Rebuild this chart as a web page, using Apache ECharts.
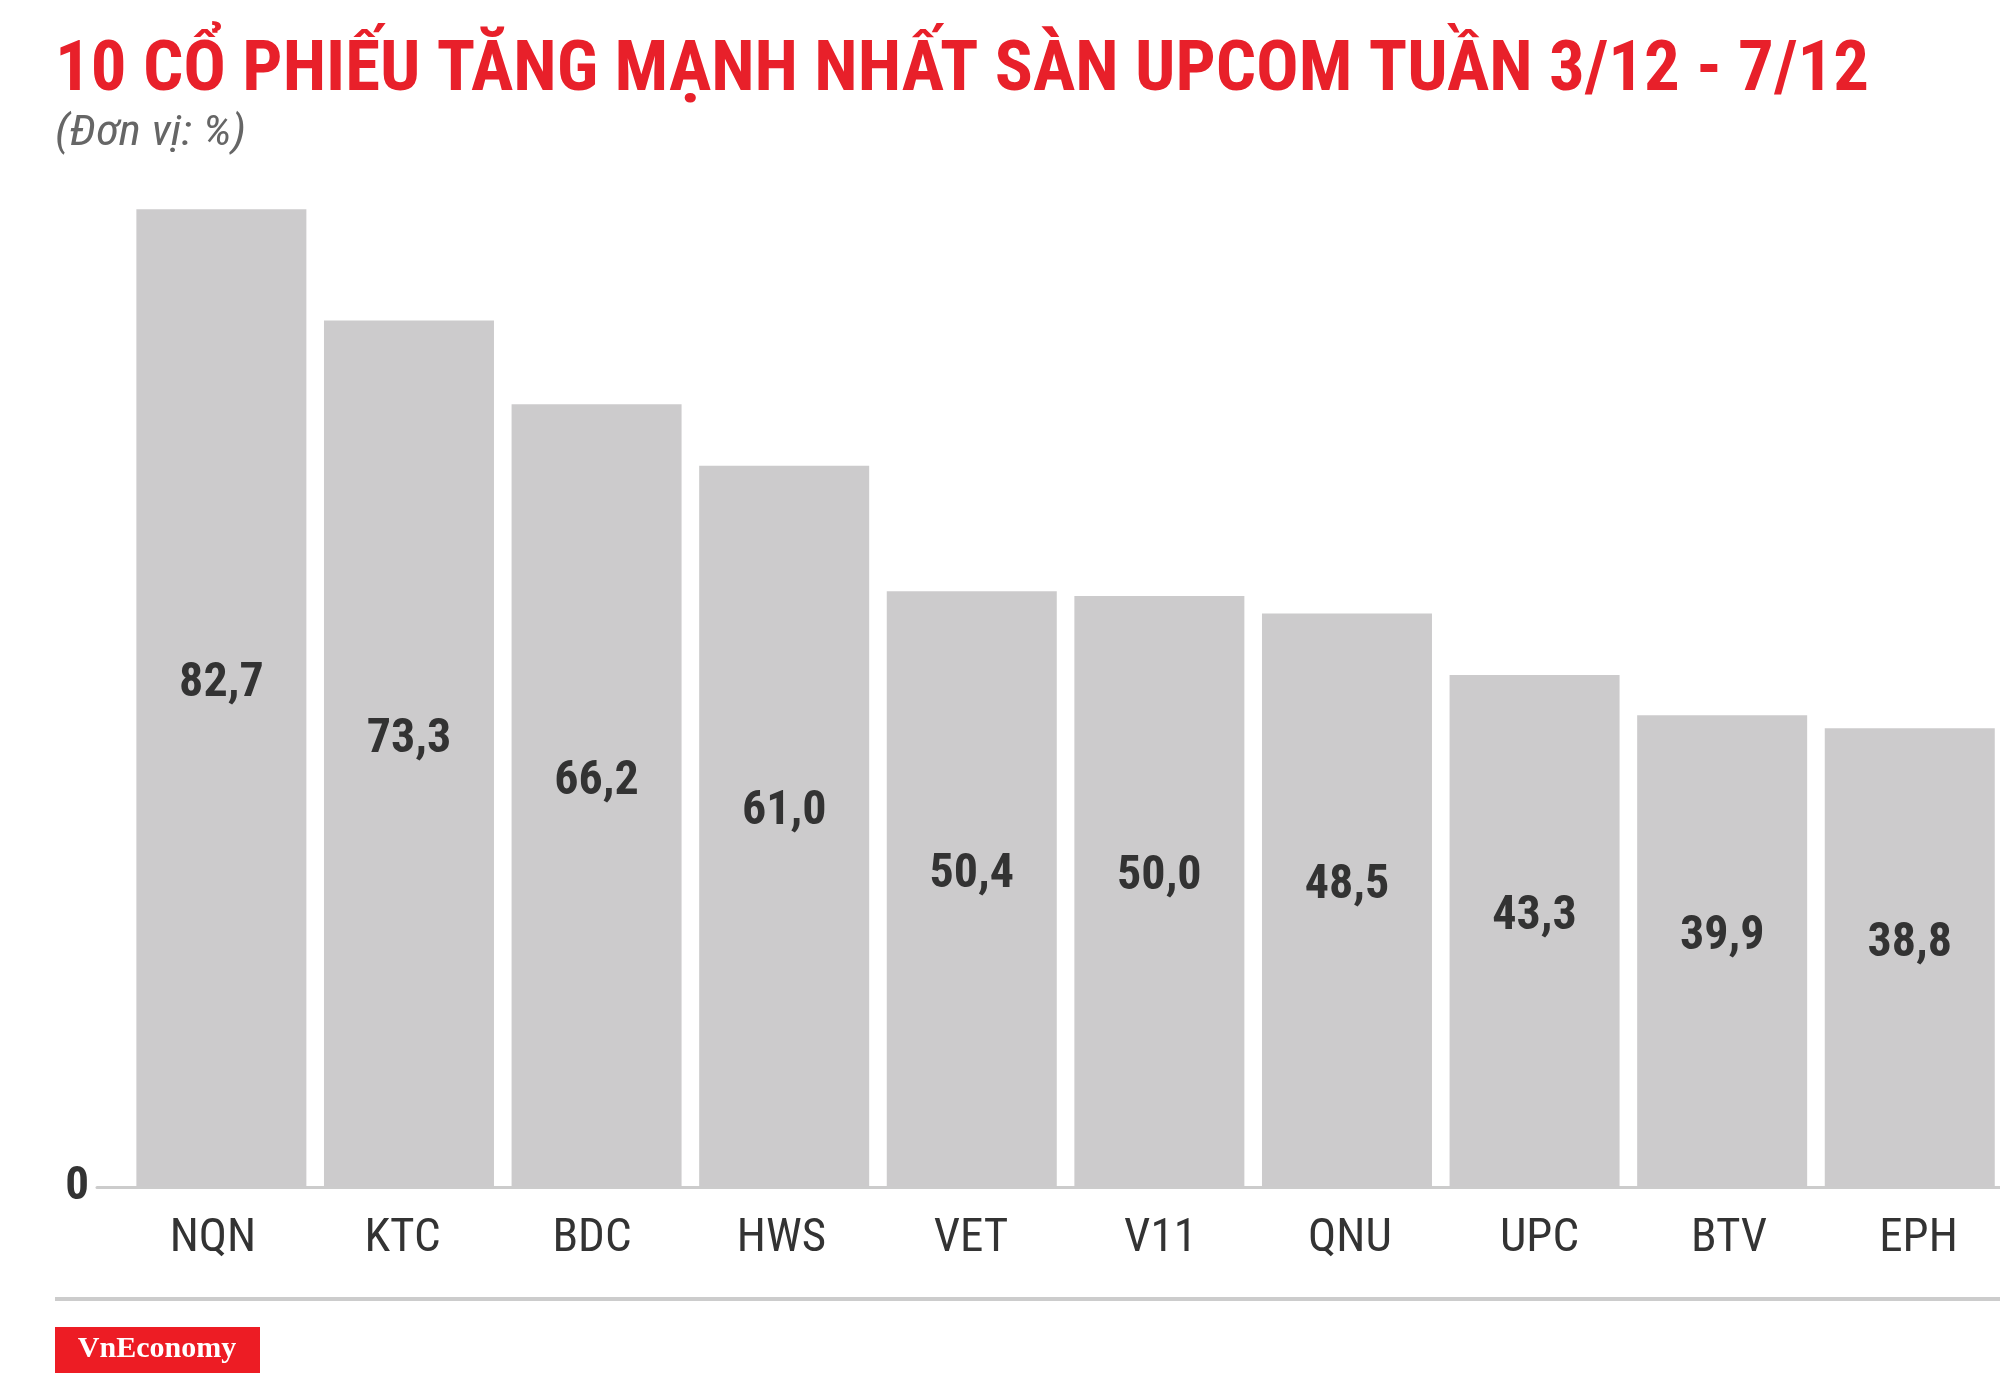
<!DOCTYPE html>
<html>
<head>
<meta charset="utf-8">
<script src="https://cdn.jsdelivr.net/npm/echarts@6/dist/echarts.min.js"></script>
<style>
html,body{margin:0;padding:0;background:#fff;}
#chart{width:2000px;height:1373px;}
</style>
</head>
<body>
<div id="chart"></div>
<script>
const titleText = '10 CỔ PHIẾU TĂNG MẠNH NHẤT SÀN UPCOM TUẦN 3/12 - 7/12';
const unitText = '(Đơn vị: %)';
const categories = ['NQN', 'KTC', 'BDC', 'HWS', 'VET', 'V11', 'QNU', 'UPC', 'BTV', 'EPH'];
const values = [82.7, 73.3, 66.2, 61.0, 50.4, 50.0, 48.5, 43.3, 39.9, 38.8];
const yTickLabels = ['0'];
const brand = 'VnEconomy';

const COND = "'Roboto Condensed', 'DejaVu Sans Condensed', sans-serif";
const chart = echarts.init(document.getElementById('chart'));

function fitScale(text, font, targetWidth) {
  const ctx = document.createElement('canvas').getContext('2d');
  ctx.font = font;
  return targetWidth / ctx.measureText(text).width;
}
const titleFont = "bold 70px 'Roboto Condensed', 'Roboto', sans-serif";
const unitFont = "italic 42px 'Roboto Condensed', 'Roboto', sans-serif";
const titleScale = fitScale(titleText, titleFont, 1814);
const unitScale = fitScale(unitText, unitFont, 191);

const catIdx = categories.map((c, i) => i);

chart.setOption({
  backgroundColor: '#ffffff',
  animation: false,
  grid: {left: 97, width: 1903, top: 123, bottom: 186, containLabel: false, outerBoundsMode: 'none'},
  xAxis: [
    {
      type: 'value',
      min: -0.663, max: 9.481,
      splitLine: {show: false},
      axisTick: {show: false},
      axisLine: {show: true, onZero: true, lineStyle: {color: '#cccccc', width: 3}},
      axisLabel: {show: false}
    },
    {
      type: 'value',
      position: 'bottom',
      min: -0.612, max: 9.430,
      splitLine: {show: false},
      axisTick: {show: false},
      axisLine: {show: false, onZero: false},
      axisLabel: {
        customValues: catIdx,
        formatter: v => categories[Math.round(v)] || '',
        fontFamily: COND, fontSize: 47, color: '#333333', margin: 29
      }
    }
  ],
  yAxis: {
    type: 'value',
    min: 0, max: 90, interval: 90,
    splitLine: {show: false},
    axisLine: {show: false},
    axisTick: {show: false},
    axisLabel: {
      formatter: v => (v === 0 ? yTickLabels[0] : ''),
      fontFamily: COND, fontWeight: 'bold', fontSize: 47, color: '#333333', margin: 8,
      padding: [6, 0, 0, 0]
    }
  },
  series: [{
    type: 'bar',
    xAxisIndex: 0,
    barWidth: 170,
    data: categories.map((c, i) => [i, values[i]]),
    itemStyle: {color: '#CCCBCC'},
    label: {
      show: true, position: 'inside', offset: [0, -14],
      formatter: p => p.value[1].toFixed(1).replace('.', ','),
      fontFamily: COND, fontWeight: 'bold', fontSize: 48, color: '#333333'
    }
  }],
  graphic: [
    {type: 'text', x: 55, y: 37, scaleX: titleScale, style: {text: titleText, font: titleFont, fill: '#E8202A', verticalAlign: 'top'}},
    {type: 'text', x: 55, y: 113, scaleX: unitScale, style: {text: unitText, font: unitFont, fill: '#666666', verticalAlign: 'top'}},
    {type: 'rect', shape: {x: 55, y: 1297, width: 1945, height: 4}, style: {fill: '#cccccc'}},
    {type: 'rect', shape: {x: 55, y: 1327, width: 205, height: 46}, style: {fill: '#ED1C24'}},
    {type: 'text', x: 157, y: 1349, style: {text: brand, fill: '#ffffff', font: "bold 30px 'Liberation Serif', 'DejaVu Serif', serif", align: 'center', verticalAlign: 'middle'}}
  ]
});
</script>
</body>
</html>
